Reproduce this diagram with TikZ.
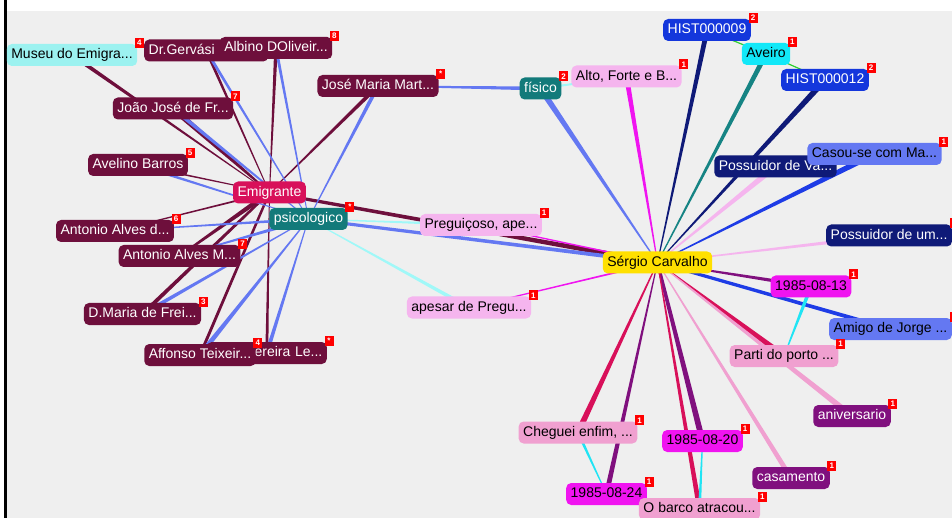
\documentclass[tikz,border=0pt]{standalone}
\usepackage{fontspec}
\setmainfont{Liberation Sans}
\usetikzlibrary{calc}
\definecolor{bggray}{HTML}{EFEFEF}
\definecolor{mar}{HTML}{6E0F3C}
\definecolor{per}{HTML}{6478F2}
\definecolor{navy}{HTML}{0F1A78}
\definecolor{hblue}{HTML}{1437DC}
\definecolor{bblue}{HTML}{1E3CE6}
\definecolor{tealn}{HTML}{127A7A}
\definecolor{tealedge}{HTML}{168484}
\definecolor{cyanl}{HTML}{9CF2F0}
\definecolor{cyanedge}{HTML}{A0F8F8}
\definecolor{cyann}{HTML}{12E8F8}
\definecolor{cyanmid}{HTML}{20E4F4}
\definecolor{magn}{HTML}{F014F0}
\definecolor{crim}{HTML}{D8105A}
\definecolor{purp}{HTML}{80107E}
\definecolor{pinkn}{HTML}{F0A0D0}
\definecolor{lpink}{HTML}{F5B5EE}
\definecolor{yel}{HTML}{FFE000}
\definecolor{greene}{HTML}{30D030}
\pgfdeclarelayer{bg}
\pgfdeclarelayer{edges}
\pgfsetlayers{bg,edges,main}
\newcommand{\tgedge}[5]{\fill[#1] ($(#2)!#4pt!90:(#3)$) -- ($(#3)!#5pt!-90:(#2)$) -- ($(#3)!#5pt!90:(#2)$) -- ($(#2)!#4pt!-90:(#3)$) -- cycle;}
\begin{document}
\begin{tikzpicture}[x=1pt,y=-1pt,
  nd/.style={rounded corners=5pt, inner xsep=4.5pt, inner ysep=0pt, minimum height=22pt,
    font=\fontsize{14}{16}\selectfont, text height=10.5pt, text depth=3pt},
  dark/.style={nd, text=white},
  light/.style={nd, text=black},
  badge/.style={fill=red, text=white, inner sep=0pt, minimum width=9pt, minimum height=10pt,
    font=\fontsize{8}{8}\selectfont\bfseries}]
\useasboundingbox (0,0) rectangle (952,518);
\begin{pgfonlayer}{bg}
\fill[white] (0,0) rectangle (952,518);
\fill[bggray] (7,11) rectangle (952,518);
\fill[black] (4,0) rectangle (7,518);
\end{pgfonlayer}
% ---- left cluster nodes
\node[light, fill=cyanl] (museu) at (72,55) {Museu do Emigra...};
\node[badge] (bmuseu) at ($(museu.north east)+(2,-1)$) {4};
\node[dark, fill=mar, text width=115pt, align=left, anchor=west] (drg) at (144,50.5) {Dr.Gervási};
\node[dark, fill=mar] (albino) at (276,48) {Albino DOliveir...};
\node[badge] (balbino) at ($(albino.north east)+(2,-1)$) {8};
\node[dark, fill=mar] (joao) at (173,108.5) {João José de Fr...};
\node[badge] (bjoao) at ($(joao.north east)+(2,-1)$) {7};
\node[dark, fill=mar] (jose) at (378,86) {José Maria Mart...};
\node[badge] (bjose) at ($(jose.north east)+(2,-1)$) {*};
\node[dark, fill=mar] (avelino) at (138,165) {Avelino Barros};
\node[badge] (bavelino) at ($(avelino.north east)+(2,-1)$) {5};
\node[dark, fill=crim] (emig) at (269.5,192.5) {Emigrante};
\node[dark, fill=tealn] (psi) at (308.5,219) {psicologico};
\node[badge] (bpsi) at ($(psi.north east)+(2,-1)$) {*};
\node[dark, fill=mar] (antd) at (115,231) {Antonio Alves d...};
\node[badge] (bantd) at ($(antd.north east)+(2,-1)$) {6};
\node[dark, fill=mar] (antm) at (179.5,256) {Antonio Alves M...};
\node[badge] (bantm) at ($(antm.north east)+(2,-1)$) {7};
\node[dark, fill=mar] (dmaria) at (142.5,314) {D.Maria de Frei...};
\node[badge] (bdmaria) at ($(dmaria.north east)+(2,-1)$) {3};
\node[dark, fill=mar, text width=111pt, align=right, anchor=east] (pereira) at (327,353) {ereira Le...};
\node[badge] (bpereira) at ($(pereira.north east)+(2,-1)$) {*};
\node[dark, fill=mar] (affonso) at (200,355) {Affonso Teixeir...};
\node[badge] (baffonso) at ($(affonso.north east)+(2,-1)$) {4};
% ---- middle nodes
\node[light, fill=lpink] (preg) at (481,225) {Preguiçoso, ape...};
\node[badge] (bpreg) at ($(preg.north east)+(2,-1)$) {1};
\node[light, fill=lpink] (apesar) at (469,307.5) {apesar de Pregu...};
\node[badge] (bapesar) at ($(apesar.north east)+(2,-1)$) {1};
% ---- right cluster nodes
\node[dark, fill=tealn] (fisico) at (540.5,88.5) {físico};
\node[badge] (bfisico) at ($(fisico.north east)+(2,-1)$) {2};
\node[light, fill=lpink] (alto) at (626.5,76.5) {Alto, Forte e B...};
\node[badge] (balto) at ($(alto.north east)+(2,-1)$) {1};
\node[dark, fill=hblue] (hist9) at (707,30) {HIST000009};
\node[badge] (bhist9) at ($(hist9.north east)+(2,-1)$) {2};
\node[light, fill=cyann] (aveiro) at (766,54) {Aveiro};
\node[badge] (baveiro) at ($(aveiro.north east)+(2,-1)$) {1};
\node[dark, fill=hblue] (hist12) at (825,80) {HIST000012};
\node[badge] (bhist12) at ($(hist12.north east)+(2,-1)$) {2};
\node[dark, fill=navy] (possva) at (775.5,166.5) {Possuidor de Va...};
\node[light, fill=per] (casou) at (874.5,154) {Casou-se com Ma...};
\node[badge] (bcasou) at ($(casou.north east)+(2,-1)$) {1};
\node[dark, fill=navy, anchor=west] (possum) at (826,235.5) {Possuidor de um...};
\node[badge] (bpossum) at ($(possum.north east)+(2,-1)$) {1};
\node[light, fill=yel] (sergio) at (657.5,262.5) {Sérgio Carvalho};
\node[light, fill=magn] (d13) at (811,286.5) {1985-08-13};
\node[badge] (bd13) at ($(d13.north east)+(2,-1)$) {1};
\node[light, fill=per, anchor=west] (amigo) at (829,329) {Amigo de Jorge ...};
\node[badge] (bamigo) at ($(amigo.north east)+(2,-1)$) {1};
\node[light, fill=pinkn] (parti) at (784,356) {Parti do porto ...};
\node[badge] (bparti) at ($(parti.north east)+(2,-1)$) {1};
\node[dark, fill=purp] (aniv) at (852,416) {aniversario};
\node[badge] (baniv) at ($(aniv.north east)+(2,-1)$) {1};
\node[light, fill=pinkn] (cheguei) at (578,432.5) {Cheguei enfim, ...};
\node[badge] (bcheguei) at ($(cheguei.north east)+(2,-1)$) {1};
\node[light, fill=magn] (d20) at (702.5,441) {1985-08-20};
\node[badge] (bd20) at ($(d20.north east)+(2,-1)$) {1};
\node[dark, fill=purp] (casam) at (791,478) {casamento};
\node[badge] (bcasam) at ($(casam.north east)+(2,-1)$) {1};
\node[light, fill=magn] (d24) at (606.5,494) {1985-08-24};
\node[badge] (bd24) at ($(d24.north east)+(2,-1)$) {1};
\node[light, fill=pinkn] (barco) at (699.5,509) {O barco atracou...};
\node[badge] (bbarco) at ($(barco.north east)+(2,-1)$) {1};
% ---- connectors
\begin{pgfonlayer}{edges}
\tgedge{mar}{museu}{emig}{2}{0.3}
\tgedge{mar}{drg}{emig}{1.5}{0.4}
\tgedge{mar}{albino}{emig}{1.8}{0.4}
\tgedge{mar}{joao}{emig}{3}{0.8}
\tgedge{mar}{jose}{emig}{2}{0.5}
\tgedge{mar}{avelino}{emig}{1}{0.4}
\tgedge{mar}{antd}{emig}{0.5}{1}
\tgedge{mar}{antm}{emig}{1}{2.5}
\tgedge{mar}{dmaria}{emig}{2}{1.2}
\tgedge{mar}{affonso}{emig}{1.5}{1.2}
\tgedge{mar}{pereira}{emig}{1.5}{0.4}
\tgedge{mar}{emig}{sergio}{1.5}{2.5}
\tgedge{per}{drg}{psi}{1.5}{0.4}
\tgedge{per}{albino}{psi}{1.5}{0.4}
\tgedge{per}{joao}{psi}{2}{0.4}
\tgedge{per}{jose}{psi}{2}{0.4}
\tgedge{per}{avelino}{psi}{1.5}{0.3}
\tgedge{per}{antd}{psi}{0.4}{1.5}
\tgedge{per}{antm}{psi}{0.4}{2}
\tgedge{per}{dmaria}{psi}{2}{0.4}
\tgedge{per}{affonso}{psi}{2.5}{0.5}
\tgedge{per}{pereira}{psi}{2}{0.4}
\tgedge{per}{jose}{fisico}{0.4}{2}
\tgedge{per}{psi}{sergio}{1.5}{2}
\tgedge{cyanedge}{psi}{preg}{0.4}{1.5}
\tgedge{cyanedge}{psi}{apesar}{0.4}{2}
\tgedge{magn}{preg}{sergio}{0.6}{0.8}
\tgedge{magn}{apesar}{sergio}{0.5}{1}
\tgedge{per}{fisico}{sergio}{3}{0.5}
\tgedge{cyanedge}{fisico}{alto}{1}{1}
\tgedge{magn}{alto}{sergio}{2.5}{0.5}
\tgedge{navy}{hist9}{sergio}{2.5}{0.5}
\tgedge{greene}{hist9}{aveiro}{0.6}{0.6}
\tgedge{tealedge}{aveiro}{sergio}{2.5}{0.5}
\tgedge{greene}{aveiro}{hist12}{0.6}{0.6}
\tgedge{navy}{hist12}{sergio}{3}{0.4}
\tgedge{lpink}{possva}{sergio}{3}{0.4}
\tgedge{bblue}{casou}{sergio}{3}{0.4}
\tgedge{lpink}{possum}{sergio}{2}{0.4}
\tgedge{purp}{sergio}{d13}{0.5}{2}
\tgedge{bblue}{sergio}{amigo}{1.5}{2}
\tgedge{cyanmid}{d13}{parti}{2}{0.5}
\tgedge{crim}{sergio}{parti}{0.5}{3}
\tgedge{pinkn}{sergio}{aniv}{0.5}{3}
\tgedge{pinkn}{sergio}{casam}{0.5}{2.5}
\tgedge{crim}{sergio}{cheguei}{0.5}{3}
\tgedge{purp}{sergio}{d24}{0.5}{2.5}
\tgedge{cyanmid}{cheguei}{d24}{1.5}{0.4}
\tgedge{purp}{sergio}{d20}{1.5}{3}
\tgedge{crim}{sergio}{barco}{0.5}{2.5}
\tgedge{cyanmid}{d20}{barco}{0.5}{1.5}
\end{pgfonlayer}
\end{tikzpicture}
\end{document}
